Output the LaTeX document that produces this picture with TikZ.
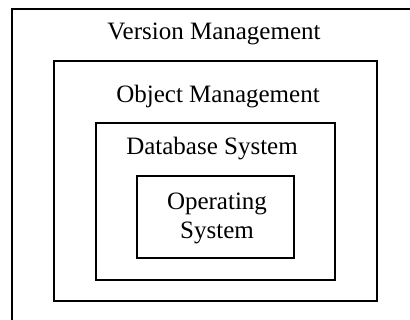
\documentclass[tikz,border=0pt]{standalone}
\usepackage{fontspec}
\setmainfont{Liberation Serif}
\begin{document}
\begin{tikzpicture}[x=1pt, y=-1pt, line width=1.6pt,
    layer/.style={draw, inner sep=0pt},
    label/.style={font=\fontsize{25}{29}\selectfont, inner sep=0pt, anchor=base, align=center}]
        \clip (0, 0) rectangle (410, 320);
        \fill[white] (0, 0) rectangle (410, 320);
        % nested layers
        \draw (12, 9) rectangle (440, 350);
        \draw (54, 61) rectangle (377, 301);
        \draw (96, 123) rectangle (335, 280);
        \draw (137, 176) rectangle (294, 258);

        \node[label] (version) at (214, 40) {Version Management};
        \node[label] (object) at (218, 103) {Object Management};
        \node[label] (database) at (212, 155) {Database System};
        \node[label, anchor=center] (os) at (217, 218) {Operating\\System};
    \end{tikzpicture}
\end{document}
